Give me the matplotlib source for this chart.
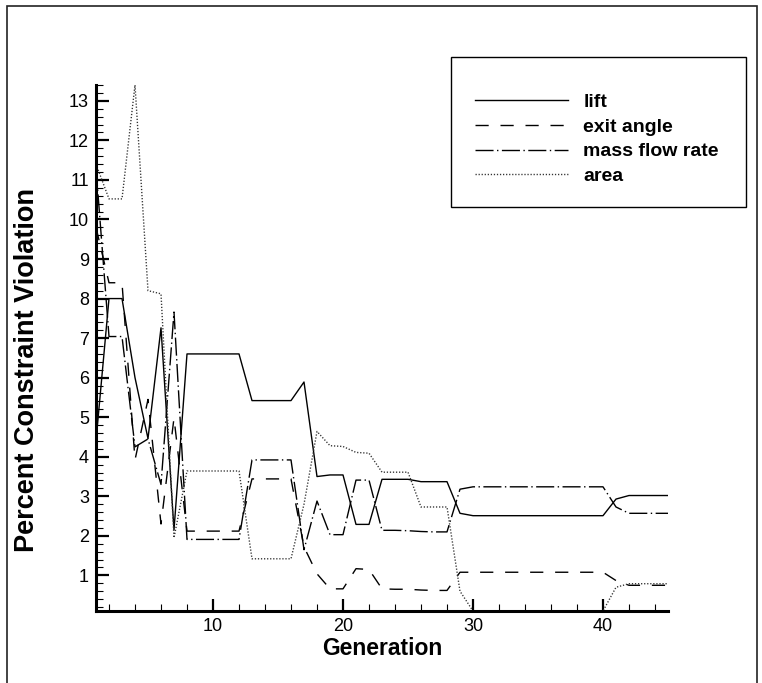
import matplotlib.pyplot as plt
import numpy as np
from matplotlib.patches import Rectangle
from matplotlib.ticker import MultipleLocator

generation = np.arange(1, 46)

lift = [4.4, 8.0, 8.0, 6.0, 4.46, 7.26, 2.15,
        6.6, 6.6, 6.6, 6.6, 6.6,
        5.42, 5.42, 5.42, 5.42,
        5.89, 3.5, 3.54, 3.54, 2.29, 2.29,
        3.43, 3.43, 3.43, 3.37, 3.37, 3.37, 2.57,
        2.51, 2.51, 2.51, 2.51, 2.51, 2.51, 2.51, 2.51, 2.51, 2.51, 2.51,
        2.93, 3.02, 3.02, 3.02, 3.02]

exit_angle = [9.8, 8.4, 8.4, 3.92, 5.45, 2.3, 4.98,
              2.12, 2.12, 2.12, 2.12, 2.12,
              3.44, 3.44, 3.44, 3.44,
              1.72, 1.04, 0.66, 0.66, 1.17, 1.15,
              0.66, 0.65, 0.65, 0.63, 0.62, 0.62, 1.08,
              1.08, 1.08, 1.08, 1.08, 1.08, 1.08, 1.08, 1.08, 1.08, 1.08, 1.08,
              0.87, 0.75, 0.75, 0.75, 0.75]

mass_flow = [11.3, 7.04, 7.04, 4.25, 4.45, 3.3, 7.66,
             1.91, 1.91, 1.91, 1.91, 1.91,
             3.92, 3.92, 3.92, 3.92,
             1.65, 2.88, 2.03, 2.03, 3.41, 3.41,
             2.14, 2.14, 2.13, 2.11, 2.10, 2.10, 3.18,
             3.24, 3.24, 3.24, 3.24, 3.24, 3.24, 3.24, 3.24, 3.24, 3.24, 3.24,
             2.73, 2.57, 2.57, 2.57, 2.57]

area = [11.4, 10.52, 10.52, 13.4, 8.2, 8.12, 1.95,
        3.64, 3.64, 3.64, 3.64, 3.64,
        1.42, 1.42, 1.42, 1.42,
        2.8, 4.64, 4.28, 4.26, 4.11, 4.09,
        3.61, 3.61, 3.61, 2.73, 2.73, 2.73, 0.6,
        0.1, 0.1, 0.1, 0.1, 0.1, 0.1, 0.1, 0.1, 0.1, 0.1, 0.1,
        0.7, 0.79, 0.79, 0.79, 0.79]

labels = ["lift", "exit angle", "mass flow rate", "area"]

plt.rcParams['font.family'] = ['Liberation Sans', 'DejaVu Sans']

fig = plt.figure(figsize=(7.62, 6.83), dpi=100)
ax = fig.add_axes([96 / 762, 1 - 611 / 683, 572 / 762, 526 / 683])

lw = 1.0
ax.plot(generation, lift, color="black", lw=lw, label=labels[0])
ax.plot(generation, exit_angle, color="black", lw=lw, dashes=(9.5, 8.5),
        label=labels[1])
ax.plot(generation, mass_flow, color="black", lw=lw,
        dashes=(13, 2.5, 1, 2.5), label=labels[2])
ax.plot(generation, area, color="#333333", lw=lw, dashes=(0.9, 1.3),
        label=labels[3])

all_vals = np.concatenate([lift, exit_angle, mass_flow, area])
ax.set_xlim(1, 45)
ax.set_ylim(all_vals.min(), all_vals.max())

ax.xaxis.set_major_locator(MultipleLocator(10))
ax.xaxis.set_minor_locator(MultipleLocator(2))
ax.yaxis.set_major_locator(MultipleLocator(1))
ax.yaxis.set_minor_locator(MultipleLocator(0.2))

for side in ["top", "right"]:
    ax.spines[side].set_visible(False)
for side in ["left", "bottom"]:
    ax.spines[side].set_linewidth(2.2)

ax.tick_params(which="major", direction="in", length=9, width=1.6,
               labelsize=13, pad=5)
ax.tick_params(which="minor", direction="in", length=5, width=0.8)

fig.text(382 / 762, 1 - 655 / 683, "Generation",
         fontweight="bold", fontsize=16.5, ha="center", va="baseline")
fig.text(34 / 762, 1 - 370 / 683, "Percent Constraint Violation",
         fontweight="bold", fontsize=19.5, rotation=90,
         rotation_mode="anchor", ha="center", va="baseline")

ax.legend(loc="upper left", bbox_to_anchor=(475 / 762, 1 - 93.5 / 683),
          bbox_transform=fig.transFigure, frameon=False, borderpad=0,
          borderaxespad=0, handlelength=4.8, handletextpad=0.77,
          labelspacing=0.36, prop={"weight": "bold", "size": 14})

# legend box and outer frame
fig.patches.append(Rectangle((451 / 762, 1 - 207 / 683), 295 / 762, 150 / 683,
                             transform=fig.transFigure, fill=False,
                             edgecolor="black", lw=1.0))
fig.patches.append(Rectangle((6.5 / 762, -0.05), 750.5 / 762, 1.05 - 6 / 683,
                             transform=fig.transFigure, fill=False,
                             edgecolor="#222222", lw=1.2))

fig.savefig("out.png", dpi=100)
